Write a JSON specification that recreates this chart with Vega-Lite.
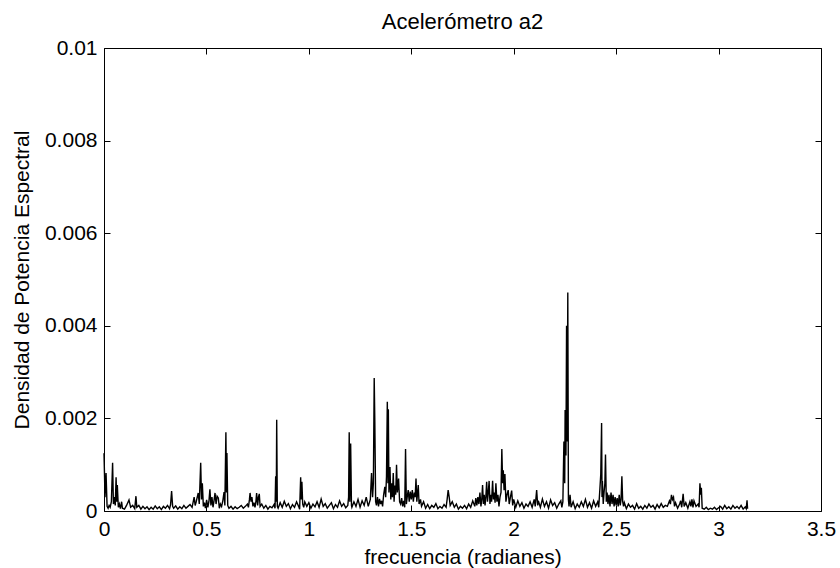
{
  "$schema": "https://vega.github.io/schema/vega-lite/v6.json",
  "width": 717,
  "height": 463,
  "autosize": "none",
  "padding": {"left": 104, "top": 48, "right": 19, "bottom": 57},
  "background": "white",
  "config": {
    "font": "Liberation Sans",
    "view": {"stroke": "black", "strokeWidth": 1},
    "axis": {"grid": false, "domain": false, "tickColor": "black", "tickSize": -6, "tickWidth": 1, "labelColor": "black", "labelFontSize": 21, "labelFont": "Liberation Sans", "titleFont": "Liberation Sans", "titleFontSize": 21, "titleFontWeight": "normal", "titleColor": "black", "labelPadding": 13}
  },
  "title": {"text": "Acelerómetro a2", "fontSize": 22, "fontWeight": "normal", "font": "Liberation Sans", "color": "black", "anchor": "middle", "offset": 3},
  "data": {"values": [
{"f":0,"p":0.00125},{"f":0.005,"p":0.0003},{"f":0.01,"p":0.00082},{"f":0.015,"p":0.0001},{"f":0.02,"p":0.00006},{"f":0.025,"p":0.00012},{"f":0.03,"p":0.00008},{"f":0.036,"p":0.0002},{"f":0.042,"p":0.00104},{"f":0.046,"p":0.00015},{"f":0.05,"p":0.0003},{"f":0.055,"p":0.00012},{"f":0.059,"p":0.00073},{"f":0.062,"p":0.0002},{"f":0.065,"p":0.00056},{"f":0.07,"p":0.00008},{"f":0.075,"p":0.00015},{"f":0.08,"p":0.00005},{"f":0.086,"p":0.0002},
{"f":0.09,"p":0.00006},{"f":0.1,"p":0.00004},{"f":0.11,"p":0.00012},{"f":0.122,"p":0.00024},{"f":0.13,"p":0.00008},{"f":0.14,"p":0.00012},{"f":0.15,"p":0.00005},{"f":0.156,"p":0.00032},{"f":0.16,"p":0.00008},{"f":0.17,"p":0.00012},{"f":0.18,"p":0.00004},{"f":0.19,"p":0.0001},{"f":0.2,"p":0.00005},{"f":0.21,"p":0.00009},{"f":0.22,"p":0.00003},{"f":0.23,"p":0.00008},{"f":0.24,"p":0.00004},{"f":0.25,"p":0.00011},{"f":0.26,"p":0.00005},{"f":0.27,"p":0.00009},{"f":0.28,"p":0.00003},{"f":0.29,"p":0.0001},{"f":0.3,"p":0.00006},{"f":0.31,"p":0.00012},{"f":0.32,"p":0.00005},{"f":0.325,"p":0.00014},{"f":0.33,"p":0.00043},{"f":0.335,"p":0.0001},{"f":0.34,"p":0.00006},{"f":0.35,"p":0.00011},{"f":0.36,"p":0.00004},{"f":0.37,"p":0.00009},{"f":0.38,"p":0.00005},{"f":0.39,"p":0.00012},{"f":0.4,"p":0.00006},{"f":0.41,"p":0.0001},{"f":0.42,"p":0.00014},{"f":0.43,"p":0.00008},{"f":0.44,"p":0.0003},{"f":0.445,"p":0.00012},{"f":0.45,"p":0.0002},{"f":0.46,"p":0.00039},{"f":0.465,"p":0.00015},{"f":0.472,"p":0.00104},{"f":0.476,"p":0.00025},{"f":0.48,"p":0.0006},{"f":0.485,"p":0.0001},{"f":0.49,"p":0.00018},{"f":0.495,"p":0.00006},{"f":0.501,"p":0.00024},{"f":0.507,"p":0.00008},{"f":0.512,"p":0.0002},{"f":0.517,"p":0.00047},{"f":0.522,"p":0.00012},{"f":0.527,"p":0.0003},{"f":0.532,"p":0.00008},{"f":0.537,"p":0.00022},{"f":0.542,"p":0.00039},{"f":0.547,"p":0.00015},{"f":0.552,"p":0.00032},{"f":0.558,"p":0.00028},{"f":0.563,"p":0.00006},{"f":0.568,"p":0.00015},{"f":0.574,"p":0.0001},{"f":0.58,"p":0.00022},{"f":0.586,"p":0.00041},{"f":0.59,"p":0.00012},{"f":0.595,"p":0.0017},{"f":0.598,"p":0.0004},{"f":0.6,"p":0.00125},{"f":0.604,"p":0.00012},{"f":0.61,"p":0.00006},{"f":0.62,"p":0.0001},{"f":0.63,"p":0.00004},{"f":0.64,"p":0.00009},{"f":0.65,"p":0.00005},{"f":0.66,"p":0.00008},{"f":0.67,"p":0.00012},{"f":0.68,"p":0.00006},{"f":0.69,"p":0.0001},{"f":0.7,"p":0.00015},{"f":0.705,"p":0.00008},{"f":0.71,"p":0.00025},{"f":0.713,"p":0.00039},{"f":0.718,"p":0.0002},{"f":0.722,"p":0.0003},{"f":0.727,"p":0.0001},{"f":0.732,"p":0.00018},{"f":0.737,"p":0.00008},{"f":0.742,"p":0.00022},{"f":0.745,"p":0.00039},{"f":0.75,"p":0.00012},{"f":0.754,"p":0.0003},{"f":0.758,"p":0.00037},{"f":0.762,"p":0.0001},{"f":0.77,"p":0.00015},{"f":0.78,"p":0.00006},{"f":0.79,"p":0.00012},{"f":0.8,"p":0.00004},{"f":0.81,"p":0.0001},{"f":0.82,"p":0.00007},{"f":0.83,"p":0.00014},{"f":0.835,"p":0.00006},{"f":0.838,"p":0.00075},{"f":0.841,"p":0.0002},{"f":0.843,"p":0.00197},{"f":0.846,"p":0.0001},{"f":0.85,"p":0.00006},{"f":0.86,"p":0.00018},{"f":0.87,"p":0.00008},{"f":0.88,"p":0.00021},{"f":0.89,"p":0.0001},{"f":0.9,"p":0.00016},{"f":0.91,"p":0.00005},{"f":0.92,"p":0.00014},{"f":0.93,"p":0.00008},{"f":0.94,"p":0.0002},{"f":0.95,"p":0.0001},{"f":0.955,"p":0.00004},{"f":0.96,"p":0.00073},{"f":0.963,"p":0.00025},{"f":0.966,"p":0.00063},{"f":0.97,"p":0.00015},{"f":0.975,"p":0.00008},{"f":0.98,"p":0.0002},{"f":0.99,"p":0.0001},{"f":1,"p":0.00018},{"f":1.01,"p":0.00006},{"f":1.02,"p":0.00015},{"f":1.03,"p":0.00009},{"f":1.04,"p":0.0002},{"f":1.05,"p":0.00008},{"f":1.06,"p":0.00026},{"f":1.07,"p":0.0001},{"f":1.08,"p":0.00016},{"f":1.09,"p":0.00006},{"f":1.1,"p":0.00012},{"f":1.11,"p":0.00018},{"f":1.12,"p":0.00005},{"f":1.13,"p":0.00014},{"f":1.14,"p":0.00008},{"f":1.15,"p":0.00022},{"f":1.16,"p":0.0001},{"f":1.17,"p":0.00016},{"f":1.18,"p":0.00007},{"f":1.19,"p":0.00012},{"f":1.194,"p":0.0003},{"f":1.197,"p":0.0017},{"f":1.2,"p":0.0002},{"f":1.204,"p":0.00146},{"f":1.208,"p":0.00012},{"f":1.21,"p":0.00008},{"f":1.22,"p":0.0002},{"f":1.23,"p":0.0001},{"f":1.24,"p":0.00025},{"f":1.25,"p":0.00008},{"f":1.26,"p":0.00022},{"f":1.27,"p":0.00012},{"f":1.28,"p":0.0003},{"f":1.29,"p":0.0001},{"f":1.3,"p":0.00025},{"f":1.306,"p":0.00082},{"f":1.311,"p":0.0003},{"f":1.315,"p":0.0006},{"f":1.319,"p":0.00287},{"f":1.322,"p":0.00193},{"f":1.326,"p":0.0002},{"f":1.33,"p":0.00012},{"f":1.335,"p":0.0003},{"f":1.34,"p":0.0001},{"f":1.345,"p":0.00026},{"f":1.35,"p":0.00015},{"f":1.355,"p":0.00022},{"f":1.36,"p":0.0001},{"f":1.365,"p":0.00035},{"f":1.371,"p":0.00052},{"f":1.375,"p":0.0003},{"f":1.379,"p":0.00075},{"f":1.383,"p":0.00236},{"f":1.386,"p":0.0006},{"f":1.388,"p":0.0022},{"f":1.391,"p":0.0004},{"f":1.396,"p":0.00095},{"f":1.4,"p":0.00025},{"f":1.404,"p":0.0006},{"f":1.408,"p":0.0003},{"f":1.412,"p":0.00082},{"f":1.416,"p":0.0002},{"f":1.42,"p":0.00055},{"f":1.424,"p":0.00035},{"f":1.428,"p":0.001},{"f":1.432,"p":0.0004},{"f":1.438,"p":0.0007},{"f":1.443,"p":0.0002},{"f":1.448,"p":0.00015},{"f":1.453,"p":0.00028},{"f":1.458,"p":0.0001},{"f":1.463,"p":0.00022},{"f":1.468,"p":0.00008},{"f":1.472,"p":0.00134},{"f":1.476,"p":0.00015},{"f":1.48,"p":0.0003},{"f":1.485,"p":0.00045},{"f":1.49,"p":0.0002},{"f":1.495,"p":0.00042},{"f":1.5,"p":0.00025},{"f":1.505,"p":0.00045},{"f":1.51,"p":0.0002},{"f":1.515,"p":0.0004},{"f":1.519,"p":0.0003},{"f":1.523,"p":0.0007},{"f":1.527,"p":0.0002},{"f":1.534,"p":0.00056},{"f":1.538,"p":0.00015},{"f":1.545,"p":0.00025},{"f":1.55,"p":0.0001},{"f":1.56,"p":0.0002},{"f":1.57,"p":0.00006},{"f":1.58,"p":0.00014},{"f":1.59,"p":0.00005},{"f":1.6,"p":0.00012},{"f":1.61,"p":0.00008},{"f":1.62,"p":0.00016},{"f":1.63,"p":0.00005},{"f":1.64,"p":0.0001},{"f":1.65,"p":0.00006},{"f":1.66,"p":0.00014},{"f":1.67,"p":0.00008},{"f":1.675,"p":0.00025},{"f":1.68,"p":0.00045},{"f":1.685,"p":0.0003},{"f":1.69,"p":0.00012},{"f":1.7,"p":0.0002},{"f":1.71,"p":0.00008},{"f":1.72,"p":0.00015},{"f":1.73,"p":0.00004},{"f":1.74,"p":0.0001},{"f":1.75,"p":0.00006},{"f":1.76,"p":0.00012},{"f":1.77,"p":0.00005},{"f":1.78,"p":0.00015},{"f":1.79,"p":0.00008},{"f":1.8,"p":0.00022},{"f":1.81,"p":0.0001},{"f":1.815,"p":0.00028},{"f":1.82,"p":0.00012},{"f":1.825,"p":0.0003},{"f":1.83,"p":0.00015},{"f":1.835,"p":0.0004},{"f":1.84,"p":0.0001},{"f":1.844,"p":0.00025},{"f":1.848,"p":0.00056},{"f":1.852,"p":0.00015},{"f":1.856,"p":0.00035},{"f":1.86,"p":0.00012},{"f":1.864,"p":0.0003},{"f":1.868,"p":0.00063},{"f":1.872,"p":0.0002},{"f":1.876,"p":0.0004},{"f":1.88,"p":0.00065},{"f":1.884,"p":0.00015},{"f":1.888,"p":0.00035},{"f":1.892,"p":0.0002},{"f":1.897,"p":0.00065},{"f":1.901,"p":0.00025},{"f":1.905,"p":0.0004},{"f":1.909,"p":0.00018},{"f":1.913,"p":0.0006},{"f":1.918,"p":0.0002},{"f":1.923,"p":0.00035},{"f":1.928,"p":0.0001},{"f":1.933,"p":0.0003},{"f":1.938,"p":0.0004},{"f":1.942,"p":0.00134},{"f":1.946,"p":0.0006},{"f":1.949,"p":0.00088},{"f":1.953,"p":0.00045},{"f":1.957,"p":0.0008},{"f":1.962,"p":0.0002},{"f":1.967,"p":0.00035},{"f":1.973,"p":0.00045},{"f":1.978,"p":0.00015},{"f":1.984,"p":0.0003},{"f":1.99,"p":0.00044},{"f":1.995,"p":0.00012},{"f":2,"p":0.00025},{"f":2.01,"p":0.00008},{"f":2.02,"p":0.00022},{"f":2.03,"p":0.0001},{"f":2.04,"p":0.00018},{"f":2.05,"p":0.00006},{"f":2.06,"p":0.00015},{"f":2.07,"p":0.0001},{"f":2.08,"p":0.0002},{"f":2.09,"p":0.00008},{"f":2.1,"p":0.00025},{"f":2.105,"p":0.0001},{"f":2.112,"p":0.00045},{"f":2.117,"p":0.00012},{"f":2.12,"p":0.00022},{"f":2.13,"p":0.00008},{"f":2.14,"p":0.00026},{"f":2.15,"p":0.0001},{"f":2.16,"p":0.0002},{"f":2.17,"p":0.00006},{"f":2.18,"p":0.00024},{"f":2.19,"p":0.00012},{"f":2.2,"p":0.00018},{"f":2.21,"p":0.00006},{"f":2.22,"p":0.00015},{"f":2.23,"p":0.00022},{"f":2.235,"p":0.00008},{"f":2.24,"p":0.0002},{"f":2.245,"p":0.0015},{"f":2.249,"p":0.0006},{"f":2.251,"p":0.00218},{"f":2.255,"p":0.0012},{"f":2.258,"p":0.004},{"f":2.261,"p":0.0015},{"f":2.264,"p":0.00472},{"f":2.267,"p":0.00025},{"f":2.27,"p":0.0001},{"f":2.275,"p":0.00035},{"f":2.28,"p":0.00008},{"f":2.29,"p":0.0002},{"f":2.3,"p":0.00005},{"f":2.31,"p":0.00015},{"f":2.32,"p":0.00008},{"f":2.33,"p":0.0002},{"f":2.34,"p":0.0001},{"f":2.35,"p":0.00025},{"f":2.36,"p":0.00008},{"f":2.37,"p":0.00018},{"f":2.38,"p":0.00006},{"f":2.39,"p":0.00022},{"f":2.4,"p":0.0001},{"f":2.41,"p":0.0002},{"f":2.415,"p":0.00008},{"f":2.421,"p":0.0005},{"f":2.425,"p":0.0008},{"f":2.429,"p":0.0019},{"f":2.431,"p":0.0003},{"f":2.433,"p":0.00065},{"f":2.437,"p":0.00015},{"f":2.441,"p":0.0004},{"f":2.445,"p":0.0006},{"f":2.448,"p":0.00122},{"f":2.452,"p":0.0002},{"f":2.456,"p":0.0004},{"f":2.46,"p":0.00015},{"f":2.465,"p":0.00035},{"f":2.47,"p":0.0001},{"f":2.475,"p":0.0004},{"f":2.48,"p":0.00015},{"f":2.485,"p":0.00035},{"f":2.49,"p":0.0001},{"f":2.495,"p":0.0003},{"f":2.5,"p":0.00012},{"f":2.505,"p":0.00028},{"f":2.51,"p":0.0001},{"f":2.515,"p":0.00035},{"f":2.52,"p":0.00012},{"f":2.524,"p":0.00025},{"f":2.528,"p":0.00075},{"f":2.532,"p":0.0002},{"f":2.536,"p":0.0001},{"f":2.54,"p":0.00018},{"f":2.55,"p":0.00005},{"f":2.56,"p":0.00015},{"f":2.57,"p":0.00008},{"f":2.58,"p":0.00012},{"f":2.59,"p":0.00004},{"f":2.6,"p":0.00016},{"f":2.61,"p":0.00006},{"f":2.62,"p":0.0001},{"f":2.63,"p":0.00004},{"f":2.64,"p":0.00012},{"f":2.65,"p":0.00006},{"f":2.66,"p":0.00015},{"f":2.67,"p":0.00008},{"f":2.68,"p":0.00012},{"f":2.69,"p":0.00004},{"f":2.7,"p":0.00014},{"f":2.71,"p":0.00007},{"f":2.72,"p":0.00016},{"f":2.73,"p":0.00008},{"f":2.74,"p":0.00012},{"f":2.75,"p":0.0001},{"f":2.76,"p":0.00022},{"f":2.765,"p":0.00015},{"f":2.77,"p":0.00035},{"f":2.775,"p":0.00025},{"f":2.78,"p":0.0003},{"f":2.785,"p":0.0001},{"f":2.79,"p":0.00018},{"f":2.8,"p":0.00006},{"f":2.81,"p":0.00015},{"f":2.815,"p":0.00022},{"f":2.82,"p":0.00008},{"f":2.827,"p":0.00037},{"f":2.832,"p":0.0001},{"f":2.84,"p":0.00018},{"f":2.85,"p":0.00006},{"f":2.86,"p":0.0002},{"f":2.865,"p":0.0001},{"f":2.87,"p":0.00025},{"f":2.875,"p":0.00008},{"f":2.88,"p":0.00022},{"f":2.89,"p":0.0001},{"f":2.9,"p":0.00015},{"f":2.905,"p":0.00008},{"f":2.909,"p":0.0006},{"f":2.913,"p":0.00035},{"f":2.916,"p":0.0005},{"f":2.92,"p":0.00006},{"f":2.93,"p":0.00004},{"f":2.94,"p":0.00008},{"f":2.95,"p":0.00003},{"f":2.96,"p":0.00006},{"f":2.97,"p":0.00004},{"f":2.98,"p":0.00008},{"f":2.99,"p":0.00003},{"f":3,"p":0.00007},{"f":3.01,"p":0.0001},{"f":3.02,"p":0.00004},{"f":3.03,"p":0.00012},{"f":3.04,"p":0.00005},{"f":3.05,"p":0.00009},{"f":3.06,"p":0.00004},{"f":3.07,"p":0.00012},{"f":3.08,"p":0.00006},{"f":3.09,"p":0.0001},{"f":3.1,"p":0.00005},{"f":3.11,"p":0.00012},{"f":3.12,"p":0.00004},{"f":3.13,"p":0.00009},{"f":3.135,"p":0.00005},{"f":3.139,"p":0.00023},{"f":3.1416,"p":0.00005}
  ]},
  "layer": [
    {
      "mark": {"type": "line", "color": "black", "strokeWidth": 1.4, "interpolate": "linear"},
      "encoding": {
        "x": {"field": "f", "type": "quantitative", "scale": {"domain": [0, 3.5], "nice": false},
              "axis": {"orient": "bottom", "values": [0, 0.5, 1, 1.5, 2, 2.5, 3, 3.5], "format": "~g", "title": "frecuencia (radianes)", "titleX": 358.5, "titleY": 52, "titleBaseline": "alphabetic", "labelFlush": false}},
        "y": {"field": "p", "type": "quantitative", "scale": {"domain": [0, 0.01], "nice": false},
              "axis": {"orient": "left", "values": [0, 0.002, 0.004, 0.006, 0.008, 0.01], "format": "~g", "title": "Densidad de Potencia Espectral", "titleX": -76, "titleY": 231.5, "titleBaseline": "alphabetic", "titleAngle": -90, "titleAnchor": "middle", "labelFlush": false}}
      }
    },
    {
      "mark": {"type": "line", "opacity": 0},
      "encoding": {
        "x": {"field": "f", "type": "quantitative", "axis": {"orient": "top", "values": [0, 0.5, 1, 1.5, 2, 2.5, 3, 3.5], "labels": false, "title": null}},
        "y": {"field": "p", "type": "quantitative", "axis": {"orient": "right", "values": [0, 0.002, 0.004, 0.006, 0.008, 0.01], "labels": false, "title": null}}
      }
    }
  ],
  "resolve": {"axis": {"x": "independent", "y": "independent"}}
}
